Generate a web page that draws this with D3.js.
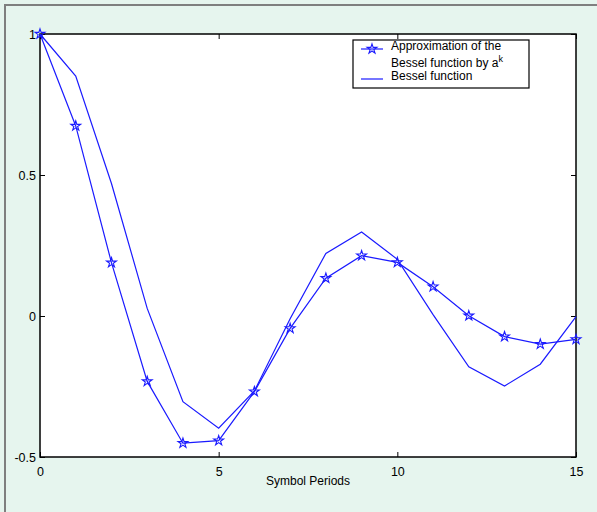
<!DOCTYPE html>
<html>
<head>
<meta charset="utf-8">
<script src="https://cdn.jsdelivr.net/npm/d3@7"></script>
<style>
  body { margin: 0; background: #e6f5ee; }
  svg { display: block; font-family: "Liberation Sans", Arial, sans-serif; }
</style>
</head>
<body>
<svg id="chart" width="597" height="512"></svg>
<script>
// symbol periods k
var periods = [0, 1, 2, 3, 4, 5, 6, 7, 8, 9, 10, 11, 12, 13, 14, 15];
// approximation a^k (star markers)
var approxValues = [1, 0.674, 0.189, -0.232, -0.451, -0.442, -0.268, -0.044, 0.134, 0.214, 0.19, 0.104, 0.001, -0.073, -0.1, -0.083];
// Bessel function
var besselValues = [1, 0.851, 0.47, 0.027, -0.304, -0.398, -0.266, -0.01, 0.222, 0.298, 0.201, 0.005, -0.18, -0.248, -0.171, -0.002];
var xTicks = [0, 5, 10, 15];
var yTicks = [-0.5, 0, 0.5, 1];

var margin = {top: 34, right: 21, bottom: 55, left: 40},
    width = 597 - margin.left - margin.right,
    height = 512 - margin.top - margin.bottom;

var svg = d3.select("#chart");

// figure border (top / left edge)
svg.append("path")
    .attr("d", "M5,512V5H597")
    .attr("fill", "none")
    .attr("stroke", "#7f7f7f")
    .attr("stroke-width", 2);

var g = svg.append("g")
    .attr("transform", "translate(" + margin.left + "," + margin.top + ")");

var x = d3.scaleLinear().domain([0, 15]).range([0, width]);
var y = d3.scaleLinear().domain([-0.5, 1]).range([height, 0]);

// plot area
g.append("rect")
    .attr("width", width)
    .attr("height", height)
    .attr("fill", "white");

// axes, ticks inside
g.append("g")
    .attr("transform", "translate(0," + height + ")")
    .call(d3.axisBottom(x).tickValues(xTicks).tickSize(-5).tickPadding(10).tickFormat(d3.format("d")))
    .call(function(a) { a.select(".domain").remove(); });
g.append("g")
    .call(d3.axisTop(x).tickValues(xTicks).tickSize(-5).tickFormat(""))
    .call(function(a) { a.select(".domain").remove(); });
g.append("g")
    .call(d3.axisLeft(y).tickValues(yTicks).tickSize(-5).tickPadding(4).tickFormat(function(d) { return d; }))
    .call(function(a) { a.select(".domain").remove(); });
g.append("g")
    .attr("transform", "translate(" + width + ",0)")
    .call(d3.axisRight(y).tickValues(yTicks).tickSize(-5).tickFormat(""))
    .call(function(a) { a.select(".domain").remove(); });

g.selectAll(".tick text")
    .attr("font-size", 12.5)
    .attr("font-family", "Liberation Sans, Arial, sans-serif")
    .attr("fill", "#000");

g.append("rect")
    .attr("width", width)
    .attr("height", height)
    .attr("fill", "none")
    .attr("stroke", "#000")
    .attr("stroke-width", 1.5);

var line = d3.line()
    .x(function(d, i) { return x(periods[i]); })
    .y(function(d) { return y(d); });

g.append("path")
    .datum(besselValues)
    .attr("fill", "none")
    .attr("stroke", "#1a1aff")
    .attr("stroke-width", 1.2)
    .attr("d", line);

g.append("path")
    .datum(approxValues)
    .attr("fill", "none")
    .attr("stroke", "#1a1aff")
    .attr("stroke-width", 1.2)
    .attr("d", line);

var star = d3.symbol().type(d3.symbolStar).size(30);
g.selectAll(".star")
    .data(approxValues)
    .enter().append("path")
    .attr("class", "star")
    .attr("transform", function(d, i) { return "translate(" + x(periods[i]) + "," + y(d) + ")"; })
    .attr("d", star)
    .attr("fill", "none")
    .attr("stroke", "#1a1aff")
    .attr("stroke-width", 1.1);

// x label
svg.append("text")
    .attr("x", margin.left + width / 2)
    .attr("y", 485)
    .attr("text-anchor", "middle")
    .attr("font-size", 12)
    .text("Symbol Periods");

// legend
var lg = svg.append("g").attr("transform", "translate(353,40)");
lg.append("rect")
    .attr("width", 176)
    .attr("height", 48)
    .attr("fill", "white")
    .attr("stroke", "#000")
    .attr("stroke-width", 1.2);
lg.append("line")
    .attr("x1", 8).attr("x2", 30).attr("y1", 9).attr("y2", 9)
    .attr("stroke", "#1a1aff").attr("stroke-width", 1.2);
lg.append("path")
    .attr("transform", "translate(19,9)")
    .attr("d", star)
    .attr("fill", "none")
    .attr("stroke", "#1a1aff")
    .attr("stroke-width", 1.1);
lg.append("text").attr("x", 38).attr("y", 10).attr("font-size", 12).text("Approximation of the");
var t2 = lg.append("text").attr("x", 38).attr("y", 27).attr("font-size", 12);
t2.append("tspan").text("Bessel function by a");
t2.append("tspan").attr("dy", -5).attr("font-size", 9).text("k");
lg.append("line")
    .attr("x1", 8).attr("x2", 30).attr("y1", 39).attr("y2", 39)
    .attr("stroke", "#1a1aff").attr("stroke-width", 1.2);
lg.append("text").attr("x", 38).attr("y", 40).attr("font-size", 12).text("Bessel function");
</script>
</body>
</html>
